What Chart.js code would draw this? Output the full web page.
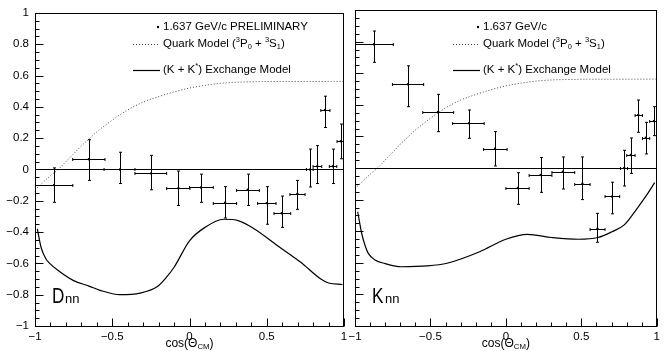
<!DOCTYPE html>
<html>
<head>
<meta charset="utf-8">
<script src="https://cdn.jsdelivr.net/npm/chart.js@4.4.1/dist/chart.umd.min.js"></script>
<style>
body { margin: 0; background: #fff; }
#wrap { position: relative; width: 664px; height: 351px; overflow: hidden; }
#wrap canvas { position: absolute; top: 0; }
</style>
</head>
<body>
<div id="wrap">
  <canvas id="dnnChart" width="352" height="351" style="left:0"></canvas>
  <canvas id="knnChart" width="322" height="351" style="left:342px"></canvas>
</div>
<script>
// tick labels
const xTickVals = [-1, -0.5, 0, 0.5, 1];
const yTickVals = [-1, -0.8, -0.6, -0.4, -0.2, 0, 0.2, 0.4, 0.6, 0.8, 1];

// D_nn data (1.637 GeV/c)
const dnnX   = [-0.877, -0.652, -0.45, -0.249, -0.072, 0.074, 0.23, 0.377, 0.50, 0.597, 0.698, 0.78, 0.827, 0.877, 0.927, 0.979];
const dnnXlo = [-1.0, -0.756, -0.553, -0.353, -0.148, 0.0, 0.154, 0.305, 0.441, 0.547, 0.65, 0.757, 0.80, 0.85, 0.905, 0.955];
const dnnXhi = [-0.755, -0.547, -0.353, -0.148, 0.003, 0.154, 0.305, 0.452, 0.56, 0.655, 0.748, 0.80, 0.856, 0.909, 0.953, 1.0];
const dnnY   = [-0.10, 0.065, 0.0, -0.025, -0.12, -0.115, -0.213, -0.13, -0.215, -0.28, -0.156, 0.0, 0.02, 0.38, 0.02, 0.18];
const dnnYlo = [-0.21, -0.07, -0.09, -0.13, -0.23, -0.21, -0.31, -0.23, -0.35, -0.37, -0.255, -0.112, -0.09, 0.268, -0.09, 0.068];
const dnnYhi = [0.01, 0.19, 0.11, 0.09, -0.01, -0.03, -0.11, -0.03, -0.11, -0.17, -0.07, 0.13, 0.152, 0.468, 0.13, 0.29];

// K_nn data
const knnX   = [-0.875, -0.649, -0.45, -0.245, -0.072, 0.079, 0.23, 0.377, 0.507, 0.607, 0.704, 0.784, 0.827, 0.877, 0.927, 0.981];
const knnXlo = [-1.0, -0.752, -0.551, -0.353, -0.148, 0.0, 0.154, 0.305, 0.456, 0.558, 0.657, 0.759, 0.801, 0.856, 0.905, 0.953];
const knnXhi = [-0.746, -0.545, -0.346, -0.144, 0.008, 0.154, 0.305, 0.456, 0.558, 0.657, 0.754, 0.806, 0.856, 0.905, 0.953, 1.0];
const knnY   = [0.783, 0.53, 0.354, 0.283, 0.122, -0.127, -0.044, -0.023, -0.10, -0.384, -0.18, 0.0, 0.082, 0.335, 0.192, 0.297];
const knnYlo = [0.669, 0.388, 0.23, 0.188, 0.013, -0.23, -0.154, -0.133, -0.20, -0.47, -0.29, -0.114, -0.034, 0.226, 0.089, 0.205];
const knnYhi = [0.867, 0.647, 0.466, 0.367, 0.23, -0.03, 0.066, 0.07, 0.07, -0.287, -0.09, 0.112, 0.19, 0.43, 0.289, 0.388];

// Quark model (3P0 + 3S1), same curve in both panels
const quarkX = [-1, -0.9, -0.85, -0.8, -0.75, -0.7, -0.65, -0.6, -0.5, -0.4, -0.3, -0.2, -0.1, 0, 0.1, 0.2, 0.3, 0.4, 0.6, 0.8, 1.0];
const quarkY = [-0.13, -0.04, 0.0, 0.05, 0.1, 0.15, 0.195, 0.24, 0.315, 0.38, 0.43, 0.465, 0.495, 0.52, 0.537, 0.55, 0.557, 0.56, 0.562, 0.562, 0.563];

// (K + K*) exchange model
const dnnModelX = [-0.985, -0.96, -0.93, -0.91, -0.85, -0.75, -0.65, -0.58, -0.45, -0.32, -0.21, -0.15, -0.1, 0.0, 0.1, 0.22, 0.31, 0.42, 0.57, 0.72, 0.85, 0.9, 0.99];
const dnnModelY = [-0.38, -0.5, -0.57, -0.595, -0.645, -0.71, -0.745, -0.772, -0.80, -0.79, -0.75, -0.69, -0.625, -0.456, -0.37, -0.318, -0.325, -0.38, -0.487, -0.593, -0.70, -0.725, -0.735];
const knnModelX = [-0.982, -0.956, -0.93, -0.912, -0.868, -0.8, -0.694, -0.52, -0.39, -0.174, 0.0, 0.142, 0.305, 0.48, 0.61, 0.7, 0.784, 0.87, 0.93, 0.986];
const knnModelY = [-0.277, -0.413, -0.5, -0.54, -0.582, -0.605, -0.625, -0.62, -0.603, -0.53, -0.451, -0.42, -0.44, -0.451, -0.44, -0.405, -0.36, -0.255, -0.175, -0.093];

const FONT_FAMILY = '"Liberation Sans", Arial, sans-serif';

function pts(xs, ys) {
  return xs.map((x, i) => ({ x: x, y: ys[i] }));
}

function fmt(v) {
  const r = Math.round(v * 10) / 10;
  return String(r).replace('-', '\u2212');
}

// text with super/subscripts: parts = [[text, 0|-1|1], ...]
function richText(ctx, x, y, parts, size) {
  let cx = x;
  parts.forEach(p => {
    const small = p[1] !== 0;
    ctx.font = (small ? size * 0.65 : size) + 'px ' + FONT_FAMILY;
    const dy = p[1] === -1 ? -size * 0.38 : (p[1] === 1 ? size * 0.25 : 0);
    ctx.fillText(p[0], cx, y + dy);
    cx += ctx.measureText(p[0]).width;
  });
  return cx - x;
}

function makePlugin(cfg) {
  return {
    id: 'rootStyle',
    afterDatasetsDraw(chart) {
      const { ctx, chartArea: a, scales: { x, y } } = chart;
      ctx.save();
      ctx.beginPath();
      ctx.rect(a.left, a.top, a.right - a.left, a.bottom - a.top);
      ctx.clip();
      ctx.strokeStyle = '#000';
      ctx.lineWidth = 1;
      // zero line
      const y0 = Math.round(y.getPixelForValue(0)) + 0.5;
      ctx.beginPath();
      ctx.moveTo(a.left, y0);
      ctx.lineTo(a.right, y0);
      ctx.stroke();
      // error bars
      const cap = 1.5;
      cfg.px.forEach((xv, i) => {
        const X = Math.round(x.getPixelForValue(xv)) + 0.5;
        const Y = Math.round(y.getPixelForValue(cfg.py[i])) + 0.5;
        const X1 = x.getPixelForValue(cfg.xlo[i]);
        const X2 = x.getPixelForValue(cfg.xhi[i]);
        const Y1 = y.getPixelForValue(cfg.ylo[i]);
        const Y2 = y.getPixelForValue(cfg.yhi[i]);
        ctx.beginPath();
        ctx.moveTo(X1, Y); ctx.lineTo(X2, Y);
        ctx.moveTo(X1, Y - cap); ctx.lineTo(X1, Y + cap);
        ctx.moveTo(X2, Y - cap); ctx.lineTo(X2, Y + cap);
        ctx.moveTo(X, Y1); ctx.lineTo(X, Y2);
        ctx.moveTo(X - cap, Y1); ctx.lineTo(X + cap, Y1);
        ctx.moveTo(X - cap, Y2); ctx.lineTo(X + cap, Y2);
        ctx.stroke();
      });
      ctx.restore();

      ctx.save();
      ctx.strokeStyle = '#000';
      ctx.fillStyle = '#000';
      ctx.lineWidth = 1;
      // frame
      const L = Math.round(a.left) + 0.5, T = Math.round(a.top) + 0.5;
      const R = Math.round(a.right) - 0.5, B = Math.round(a.bottom) + 0.5;
      ctx.strokeRect(L, T, R - L, B - T);
      // ticks, pointing inward
      ctx.beginPath();
      for (let i = -20; i <= 20; i++) {
        const py = Math.round(y.getPixelForValue(i / 20)) + 0.5;
        const len = i % 4 === 0 ? 8 : 4;
        ctx.moveTo(L, py); ctx.lineTo(L + len, py);
      }
      for (let i = -10; i <= 10; i++) {
        const px = Math.round(x.getPixelForValue(i / 10)) + 0.5;
        const len = i % 5 === 0 ? 8 : 4;
        ctx.moveTo(px, B); ctx.lineTo(px, B - len);
      }
      ctx.stroke();

      // legend
      const lx = a.left;
      ctx.textBaseline = 'middle';
      ctx.textAlign = 'left';
      ctx.beginPath();
      ctx.arc(lx + 123, 27, 1.2, 0, 2 * Math.PI);
      ctx.fill();
      ctx.font = '11.5px ' + FONT_FAMILY;
      ctx.fillText(cfg.title, lx + 128, 27);
      ctx.beginPath();
      ctx.setLineDash([1, 2]);
      ctx.strokeStyle = '#444';
      ctx.moveTo(lx + 98, 44.5); ctx.lineTo(lx + 125, 44.5);
      ctx.stroke();
      ctx.setLineDash([]);
      ctx.strokeStyle = '#000';
      richText(ctx, lx + 128, 44, [['Quark Model (', 0], ['3', -1], ['P', 0], ['0', 1], [' + ', 0], ['3', -1], ['S', 0], ['1', 1], [')', 0]], 11.5);
      ctx.beginPath();
      ctx.lineWidth = 1.2;
      ctx.moveTo(lx + 98, 70.5); ctx.lineTo(lx + 125, 70.5);
      ctx.stroke();
      richText(ctx, lx + 128, 70, [['(K + K', 0], ['*', -1], [') Exchange Model', 0]], 11.5);

      // panel label
      ctx.textBaseline = 'alphabetic';
      ctx.save();
      ctx.translate(lx + 17, 303);
      ctx.scale(0.78, 1);
      ctx.font = '22px ' + FONT_FAMILY;
      ctx.fillText(cfg.label, 0, 0);
      ctx.restore();
      ctx.font = '13px ' + FONT_FAMILY;
      ctx.fillText('nn', lx + 30, 303);

      // x axis title
      ctx.textBaseline = 'middle';
      const parts = [['cos(\u0398', 0], ['CM', 1], [')', 0]];
      const w = richText(ctx, -1000, 0, parts, 12);
      richText(ctx, (a.left + a.right) / 2 - w / 2, 344, parts, 12);
      ctx.restore();
    }
  };
}

function makeChart(id, cfg) {
  return new Chart(document.getElementById(id), {
    type: 'scatter',
    data: {
      datasets: [
        {
          data: pts(cfg.px, cfg.py),
          pointRadius: 1.2,
          pointBackgroundColor: '#000',
          pointBorderWidth: 0,
          showLine: false
        },
        {
          data: pts(quarkX, quarkY),
          showLine: true,
          borderColor: '#444',
          borderWidth: 1,
          borderDash: [1, 2],
          pointRadius: 0,
          cubicInterpolationMode: 'monotone'
        },
        {
          data: pts(cfg.mx, cfg.my),
          showLine: true,
          borderColor: '#000',
          borderWidth: 1.2,
          pointRadius: 0,
          cubicInterpolationMode: 'monotone'
        }
      ]
    },
    options: {
      responsive: false,
      animation: false,
      events: [],
      layout: { autoPadding: false, padding: { top: 10, right: cfg.padRight, bottom: 0, left: 0 } },
      plugins: { legend: { display: false }, tooltip: { enabled: false } },
      scales: {
        x: {
          type: 'linear', min: -1, max: 1,
          afterBuildTicks: s => { s.ticks = xTickVals.map(v => ({ value: v })); },
          afterFit: s => { s.height = 25; },
          grid: { display: false, drawTicks: false },
          border: { display: false },
          ticks: {
            padding: 4, color: '#000', maxRotation: 0, autoSkip: false,
            font: { size: 11.5, family: FONT_FAMILY },
            callback: v => fmt(v)
          }
        },
        y: {
          type: 'linear', min: -1, max: 1,
          afterBuildTicks: s => { s.ticks = yTickVals.map(v => ({ value: v })); },
          afterFit: s => { s.width = cfg.yWidth; },
          grid: { display: false, drawTicks: false },
          border: { display: false },
          ticks: {
            display: cfg.yLabels, padding: 6, color: '#000', autoSkip: false,
            font: { size: 11.5, family: FONT_FAMILY },
            callback: v => fmt(v)
          }
        }
      }
    },
    plugins: [makePlugin(cfg)]
  });
}

makeChart('dnnChart', {
  px: dnnX, py: dnnY, xlo: dnnXlo, xhi: dnnXhi, ylo: dnnYlo, yhi: dnnYhi,
  mx: dnnModelX, my: dnnModelY,
  title: '1.637 GeV/c PRELIMINARY', label: 'D',
  padRight: 8, yWidth: 35, yLabels: true
});

makeChart('knnChart', {
  px: knnX, py: knnY, xlo: knnXlo, xhi: knnXhi, ylo: knnYlo, yhi: knnYhi,
  mx: knnModelX, my: knnModelY,
  title: '1.637 GeV/c', label: 'K',
  padRight: 0, yWidth: 13, yLabels: false
});
</script>
</body>
</html>
